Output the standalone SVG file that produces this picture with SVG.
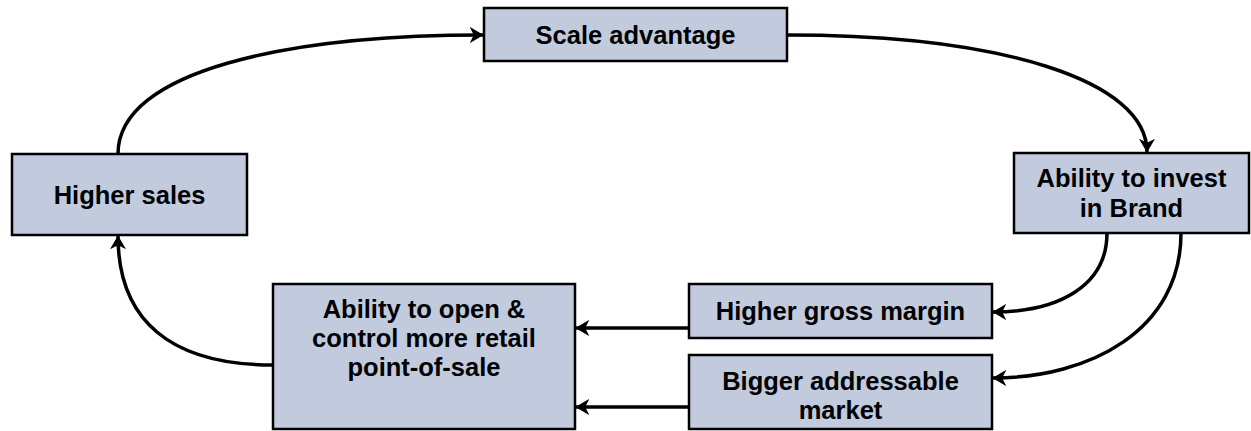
<svg xmlns="http://www.w3.org/2000/svg" width="1251" height="431" viewBox="0 0 1251 431">
<style>
.box{fill:#C1CBDD;stroke:#000;stroke-width:2.5}
.t{font-family:"Liberation Sans",Arial,sans-serif;font-weight:bold;font-size:25.5px;fill:#000;text-anchor:middle}
.c{fill:none;stroke:#000;stroke-width:3.5;marker-end:url(#ah)}
</style>
<defs>
<marker id="ah" viewBox="0 0 12 14" refX="11.5" refY="7" markerWidth="4" markerHeight="4.6" orient="auto" markerUnits="strokeWidth">
<path d="M0,0 L12,7 L0,14 L3.5,7 z" fill="#000"/>
</marker>
</defs>
<rect width="1251" height="431" fill="#fff"/>
<g id="connectors">
<path class="c" d="M118,154 C118,70 290,35 483,35"/>
<path class="c" d="M787,35 C1000,35 1147,80 1147,152"/>
<path class="c" d="M1107,233 C1107,285 1060,312 993,312"/>
<path class="c" d="M1181,233 C1181,330 1090,378 993,378"/>
<path class="c" d="M689,328 L576,328"/>
<path class="c" d="M689,407 L576,407"/>
<path class="c" d="M273,365 C170,365 118,320 118,236"/>
</g>
<g id="scale">
<rect class="box" x="484" y="8" width="303" height="53"/>
<text class="t" x="635.5" y="44">Scale advantage</text>
</g>
<g id="sales">
<rect class="box" x="12" y="154" width="235" height="81"/>
<text class="t" x="129.5" y="204">Higher sales</text>
</g>
<g id="invest">
<rect class="box" x="1014" y="153" width="235" height="80"/>
<text class="t" x="1131.5" y="187">Ability to invest</text>
<text class="t" x="1131.5" y="217">in Brand</text>
</g>
<g id="margin">
<rect class="box" x="689" y="284" width="303" height="54"/>
<text class="t" x="840.5" y="320">Higher gross margin</text>
</g>
<g id="market">
<rect class="box" x="689" y="355" width="303" height="74"/>
<text class="t" x="840.5" y="390">Bigger addressable</text>
<text class="t" x="840.5" y="419">market</text>
</g>
<g id="retail">
<rect class="box" x="273" y="284" width="302" height="145"/>
<text class="t" x="424" y="318">Ability to open &amp;</text>
<text class="t" x="424" y="347">control more retail</text>
<text class="t" x="424" y="376">point-of-sale</text>
</g>
</svg>
